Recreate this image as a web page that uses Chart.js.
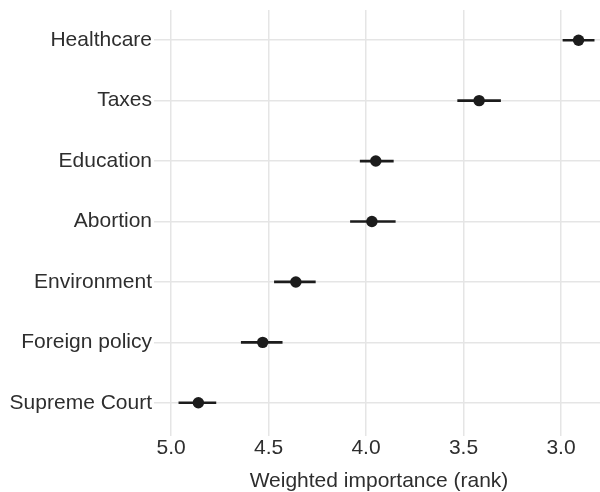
<!DOCTYPE html>
<html>
<head>
<meta charset="utf-8">
<script src="https://cdn.jsdelivr.net/npm/chart.js@4.4.1/dist/chart.umd.min.js"></script>
<style>
  html, body { margin: 0; padding: 0; background: #ffffff; }
  #wrap { width: 600px; height: 492px; }
</style>
</head>
<body>
<div id="wrap"><canvas id="chart" width="600" height="492"></canvas></div>
<script>
// Issue priorities: mean weighted rank with interval bounds
const categories = ['Healthcare', 'Taxes', 'Education', 'Abortion', 'Environment', 'Foreign policy', 'Supreme Court'];
const meanRank = [2.91, 3.42, 3.95, 3.97, 4.36, 4.53, 4.86];
const lowerRank = [2.83, 3.31, 3.86, 3.85, 4.26, 4.43, 4.77];
const upperRank = [2.99, 3.53, 4.03, 4.08, 4.47, 4.64, 4.96];
const xTickValues = [5.0, 4.5, 4.0, 3.5, 3.0];

const intervals = lowerRank.map((lo, i) => [lo, upperRank[i]]);

const textColor = '#2e2e2e';
const gridColor = '#e5e5e5';
const markColor = '#1c1c1c';
const fontFamily = '"Liberation Sans", Arial, Helvetica, sans-serif';

new Chart(document.getElementById('chart'), {
  type: 'bar',
  data: {
    labels: categories,
    datasets: [
      {
        type: 'bar',
        data: intervals,
        indexAxis: 'y',
        backgroundColor: markColor,
        borderWidth: 0,
        barThickness: 2,
        order: 2
      },
      {
        type: 'line',
        data: meanRank,
        indexAxis: 'y',
        showLine: false,
        pointRadius: 5.7,
        pointHoverRadius: 5.7,
        pointBackgroundColor: markColor,
        pointBorderColor: markColor,
        pointBorderWidth: 0,
        order: 1
      }
    ]
  },
  options: {
    indexAxis: 'y',
    responsive: false,
    animation: false,
    devicePixelRatio: 1,
    layout: { autoPadding: false, padding: { top: 10, right: 0, bottom: 0, left: 0 } },
    plugins: {
      legend: { display: false },
      tooltip: { enabled: false }
    },
    scales: {
      x: {
        type: 'linear',
        reverse: true,
        min: 2.80,
        max: 5.067,
        border: { display: false },
        grid: { color: gridColor, lineWidth: 1.5, tickLength: 3, drawTicks: true },
        afterBuildTicks: (scale) => {
          scale.ticks = xTickValues.map(v => ({ value: v }));
        },
        afterFit: (scale) => { scale.height = 59; },
        ticks: {
          color: textColor,
          font: { family: fontFamily, size: 21 },
          padding: 0,
          maxRotation: 0,
          callback: (v) => Number(v).toFixed(1)
        },
        title: {
          display: true,
          text: 'Weighted importance (rank)',
          color: textColor,
          font: { family: fontFamily, size: 21, lineHeight: 1.0 },
          padding: { top: 8, bottom: 0 }
        }
      },
      y: {
        type: 'category',
        offset: true,
        border: { display: false },
        grid: { color: gridColor, lineWidth: 1.5, tickLength: 4, offset: false },
        afterFit: (scale) => { scale.width = 158; },
        ticks: {
          color: textColor,
          font: { family: fontFamily, size: 21, lineHeight: 0.76 },
          padding: 2
        }
      }
    }
  }
});
</script>
</body>
</html>
